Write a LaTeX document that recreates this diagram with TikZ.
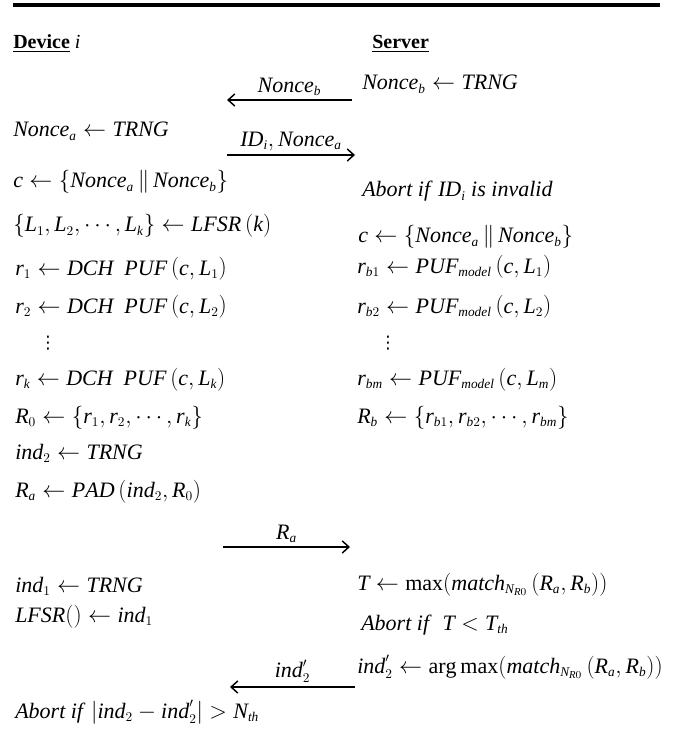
\documentclass[tikz,border=0pt]{standalone}
\usepackage{fontspec}
\setmainfont{Liberation Serif}
\newfontfamily\dotsfont{DejaVu Sans}
\usetikzlibrary{arrows.meta, positioning}
\DeclareMathSizes{16.5}{16.5}{10}{8}
\newcommand{\vn}[1]{\mathit{#1}}
\tikzset{
    >={Straight Barb[length=5pt, width=9pt]},
    % Text
    stmt/.style={anchor=base west, inner sep=0pt, font=\fontsize{16.5}{20}\selectfont},
    title/.style={anchor=base west, inner sep=0pt, font=\fontsize{15}{18}\selectfont},
    dots/.style={anchor=base, inner sep=0pt, font=\fontsize{13}{15}\selectfont\dotsfont},
    lbl/.style={above, inner sep=2.5pt, font=\fontsize{16.5}{20}\selectfont},
    % Messages
    msg/.style={->, line width=1.1pt}
}
\begin{document}
\begin{tikzpicture}[x=0.75pt, y=-0.75pt]
\useasboundingbox (0,0) rectangle (689,748);
\fill (13,3.5) rectangle (660,7.5);

\node[title] (dev) at (13,49) {\underline{\textbf{Device}} \textit{i}};
\node[title] (srv) at (372,49) {\underline{\textbf{Server}}};

% Device side
\node[stmt] (d1) at (13,137) {$\vn{Nonce}_{\vn{a}} \leftarrow \vn{TRNG}$};
\node[stmt] (d2) at (13,188) {$\vn{c} \leftarrow \left\{\vn{Nonce}_{\vn{a}} \,\|\, \vn{Nonce}_{\vn{b}}\right\}$};
\node[stmt] (d3) at (13,232) {$\left\{\vn{L}_1,\vn{L}_2,\cdots,\vn{L}_{\vn{k}}\right\} \leftarrow \vn{LFSR}\left(\vn{k}\right)$};
\node[stmt] (d4) at (15,275) {$\vn{r}_1 \leftarrow \vn{DCH\ \ PUF}\left(\vn{c},\vn{L}_1\right)$};
\node[stmt] (d5) at (15,313) {$\vn{r}_2 \leftarrow \vn{DCH\ \ PUF}\left(\vn{c},\vn{L}_2\right)$};
\node[dots] (d6) at (48,348) {⋮};
\node[stmt] (d7) at (15,385) {$\vn{r}_{\vn{k}} \leftarrow \vn{DCH\ \ PUF}\left(\vn{c},\vn{L}_{\vn{k}}\right)$};
\node[stmt] (d8) at (15,423) {$\vn{R}_0 \leftarrow \left\{\vn{r}_1,\vn{r}_2,\cdots,\vn{r}_{\vn{k}}\right\}$};
\node[stmt] (d9) at (15,459) {$\vn{ind}_2 \leftarrow \vn{TRNG}$};
\node[stmt] (d10) at (15,497) {$\vn{R}_{\vn{a}} \leftarrow \vn{PAD}\left(\vn{ind}_2,\vn{R}_0\right)$};
\node[stmt] (d11) at (15,592) {$\vn{ind}_1 \leftarrow \vn{TRNG}$};
\node[stmt] (d12) at (15,622) {$\vn{LFSR}() \leftarrow \vn{ind}_1$};
\node[stmt] (d13) at (15,718) {\textit{Abort if} $\bigl|\vn{ind}_2 - \vn{ind}'_2\bigr| > \vn{N}_{\vn{th}}$};

% Server side
\node[stmt] (s1) at (362,90) {$\vn{Nonce}_{\vn{b}} \leftarrow \vn{TRNG}$};
\node[stmt] (s2) at (362,197) {\textit{Abort if} $\vn{ID}_{\vn{i}}$ \textit{is invalid}};
\node[stmt] (s3) at (358,243) {$\vn{c} \leftarrow \left\{\vn{Nonce}_{\vn{a}} \,\|\, \vn{Nonce}_{\vn{b}}\right\}$};
\node[stmt] (s4) at (357,273) {$\vn{r}_{\vn{b}1} \leftarrow \vn{PUF}_{\vn{model}}\left(\vn{c},\vn{L}_1\right)$};
\node[stmt] (s5) at (357,313) {$\vn{r}_{\vn{b}2} \leftarrow \vn{PUF}_{\vn{model}}\left(\vn{c},\vn{L}_2\right)$};
\node[dots] (s6) at (388,348) {⋮};
\node[stmt] (s7) at (357,385) {$\vn{r}_{\vn{bm}} \leftarrow \vn{PUF}_{\vn{model}}\left(\vn{c},\vn{L}_{\vn{m}}\right)$};
\node[stmt] (s8) at (357,423) {$\vn{R}_{\vn{b}} \leftarrow \left\{\vn{r}_{\vn{b}1},\vn{r}_{\vn{b}2},\cdots,\vn{r}_{\vn{bm}}\right\}$};
\node[stmt] (s9) at (357,590) {$\vn{T} \leftarrow \max\Bigl(\vn{match}_{\vn{N}_{\vn{R}0}}\left(\vn{R}_{\vn{a}},\vn{R}_{\vn{b}}\right)\Bigr)$};
\node[stmt] (s10) at (361,630) {\textit{Abort if} \ $\vn{T} < \vn{T}_{\vn{th}}$};
\node[stmt] (s11) at (357,673) {$\vn{ind}'_2 \leftarrow \arg\max\Bigl(\vn{match}_{\vn{N}_{\vn{R}0}}\left(\vn{R}_{\vn{a}},\vn{R}_{\vn{b}}\right)\Bigr)$};

% Message ends
\coordinate (m1s) at (352,100);
\coordinate (m1e) at (227,100);
\coordinate (m2s) at (227,155);
\coordinate (m2e) at (355,155);
\coordinate (m3s) at (223,547);
\coordinate (m3e) at (350,547);
\coordinate (m4s) at (355,687);
\coordinate (m4e) at (230,687);

\draw[msg] (m1s) -- node[lbl] (l1) {$\vn{Nonce}_{\vn{b}}$} (m1e);
\draw[msg] (m2s) -- node[lbl] (l2) {$\vn{ID}_{\vn{i}},\vn{Nonce}_{\vn{a}}$} (m2e);
\draw[msg] (m3s) -- node[lbl] (l3) {$\vn{R}_{\vn{a}}$} (m3e);
\draw[msg] (m4s) -- node[lbl] (l4) {$\vn{ind}'_2$} (m4e);

\end{tikzpicture}
\end{document}
